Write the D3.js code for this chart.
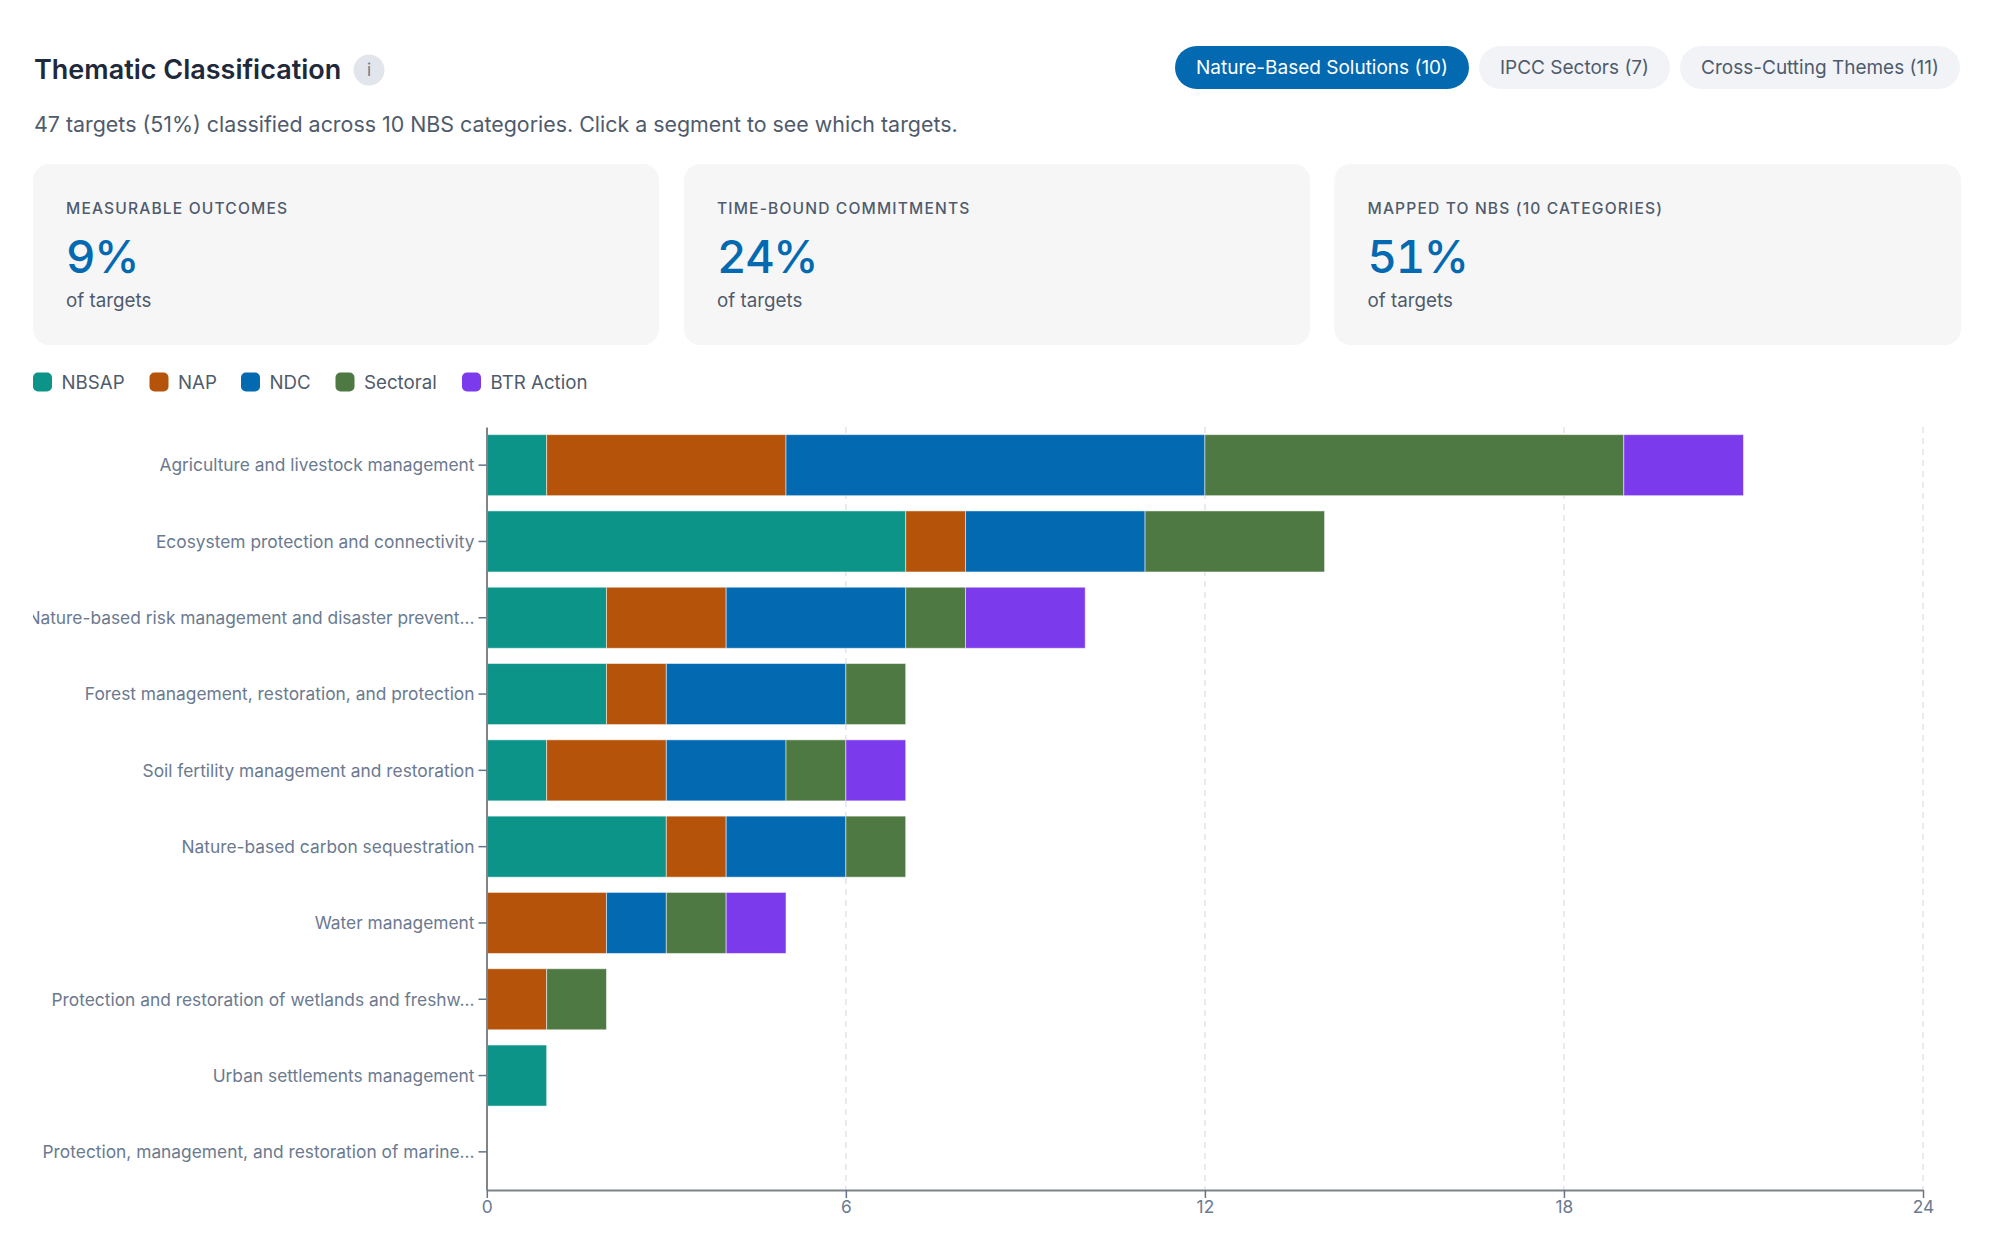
<!DOCTYPE html>
<html><head><meta charset="utf-8">
<script src="https://cdn.jsdelivr.net/npm/d3@7/dist/d3.min.js"></script>
<style>
html,body{margin:0;padding:0;background:#fff;width:2000px;height:1253px;overflow:hidden;font-family:Inter,sans-serif}
text{font-family:Inter,sans-serif}
</style></head><body>
<svg id="chart" width="2000" height="1253"></svg>
<script>
const categories=["Agriculture and livestock management","Ecosystem protection and connectivity","Nature-based risk management and disaster prevent…","Forest management, restoration, and protection","Soil fertility management and restoration","Nature-based carbon sequestration","Water management","Protection and restoration of wetlands and freshw…","Urban settlements management","Protection, management, and restoration of marine…"];
const seriesNames=["NBSAP","NAP","NDC","Sectoral","BTR Action"];
const seriesColors=["#0d9488","#b45309","#0369b1","#4f7942","#7c3aed"];
const NBSAP=[1,7,2,2,1,3,0,0,1,0];
const NAP=[4,1,2,1,2,1,2,1,0,0];
const NDC=[7,3,3,3,2,2,1,0,0,0];
const Sectoral=[7,3,1,1,1,1,1,1,0,0];
const BTR=[2,0,2,0,1,0,1,0,0,0];
const xTicks=[0,6,12,18,24];
const pills=[["Nature-Based Solutions (10)",1175,1469,true],["IPCC Sectors (7)",1479,1670,false],["Cross-Cutting Themes (11)",1680,1960,false]];
const cards=[["MEASURABLE OUTCOMES","9%",33,659],["TIME-BOUND COMMITMENTS","24%",684,1310],["MAPPED TO NBS (10 CATEGORIES)","51%",1334.5,1961]];
const legendX=[33,149.5,241,335.5,462];
const rows=categories.map((c,i)=>({cat:c,NBSAP:NBSAP[i],NAP:NAP[i],NDC:NDC[i],Sectoral:Sectoral[i],"BTR Action":BTR[i]}));

const svg=d3.select("#chart");
const ink="#1e293b",muted="#4f5b6c",tick="#6b7a90",blue="#0369b1";
svg.append("text").attr("x",34).attr("y",78.5).attr("font-size",27).attr("font-weight",600).attr("fill",ink).text("Thematic Classification");
svg.append("circle").attr("cx",369).attr("cy",70).attr("r",15.5).attr("fill","#e2e6ec");
svg.append("text").attr("x",369).attr("y",76).attr("text-anchor","middle").attr("font-size",17).attr("fill",tick).text("i");
pills.forEach(p=>{
 svg.append("rect").attr("x",p[1]).attr("y",46).attr("width",p[2]-p[1]).attr("height",43).attr("rx",21.5).attr("fill",p[3]?blue:"#f1f3f7");
 svg.append("text").attr("x",(p[1]+p[2])/2).attr("y",74).attr("text-anchor","middle").attr("font-size",19).attr("font-weight",400).attr("fill",p[3]?"#fff":muted).text(p[0]);
});
svg.append("text").attr("x",34).attr("y",132).attr("font-size",21.4).attr("fill",muted).text("47 targets (51%) classified across 10 NBS categories. Click a segment to see which targets.");
cards.forEach(c=>{
 svg.append("rect").attr("x",c[2]).attr("y",164).attr("width",c[3]-c[2]).attr("height",181).attr("rx",16).attr("fill","#f6f6f7");
 svg.append("text").attr("x",c[2]+33).attr("y",214).attr("font-size",15.6).attr("font-weight",500).attr("letter-spacing",1.15).attr("fill",muted).text(c[0]);
 svg.append("text").attr("x",c[2]+33).attr("y",273).attr("font-size",45.5).attr("font-weight",500).attr("letter-spacing",-1.3).style("font-variant-numeric","tabular-nums").attr("fill",blue).text(c[1]);
 svg.append("text").attr("x",c[2]+33).attr("y",306.5).attr("font-size",18.8).attr("fill",muted).text("of targets");
});
seriesNames.forEach((s,i)=>{
 svg.append("rect").attr("x",legendX[i]).attr("y",372.5).attr("width",19).attr("height",19).attr("rx",5).attr("fill",seriesColors[i]);
 svg.append("text").attr("x",legendX[i]+28.5).attr("y",389).attr("font-size",18.7).attr("fill",muted).text(s);
});

const x=d3.scaleLinear().domain([0,24]).range([486.8,1923]);
const y=d3.scaleBand().domain(categories).range([427,1190]).paddingInner(0.2).paddingOuter(0.1);
const clipId="clipLabels";
svg.append("defs").append("clipPath").attr("id",clipId).append("rect").attr("x",33).attr("y",420).attr("width",1950).attr("height",800);
const g=svg.append("g").attr("clip-path","url(#"+clipId+")");
g.append("g").selectAll("line").data(xTicks.slice(1)).join("line")
 .attr("x1",d=>x(d)).attr("x2",d=>x(d)).attr("y1",427).attr("y2",1190)
 .attr("stroke","#e2e4ee").attr("stroke-width",1.5).attr("stroke-dasharray","6 5");
const stack=d3.stack().keys(seriesNames)(rows);
g.append("g").selectAll("g").data(stack).join("g").attr("fill",(d,i)=>seriesColors[i])
 .selectAll("rect").data(d=>d.filter(v=>v[1]>v[0])).join("rect")
 .attr("x",d=>x(d[0])).attr("width",d=>x(d[1])-x(d[0]))
 .attr("y",d=>y(d.data.cat)).attr("height",y.bandwidth())
 .attr("stroke","#fff").attr("stroke-opacity",0.5).attr("stroke-width",1);
const ya=g.append("g").attr("transform","translate(486.5,0)").call(d3.axisLeft(y).tickSize(8).tickSizeOuter(0).tickPadding(4));
ya.selectAll("text").attr("font-size",17.35).attr("fill",tick).attr("dy","0.36em");
ya.selectAll("line").attr("stroke","#64748b").attr("stroke-width",1.5);
ya.select(".domain").attr("stroke","#7f8488").attr("stroke-width",2);
const xa=g.append("g").attr("transform","translate(0,1190)").call(d3.axisBottom(x).tickValues(xTicks).tickSize(8).tickSizeOuter(0).tickPadding(3));
xa.selectAll("text").attr("font-size",17.35).attr("fill",tick);
xa.selectAll("line").attr("stroke","#64748b").attr("stroke-width",1.5);
xa.select(".domain").attr("stroke","#7f8488").attr("stroke-width",2);
</script></body></html>
